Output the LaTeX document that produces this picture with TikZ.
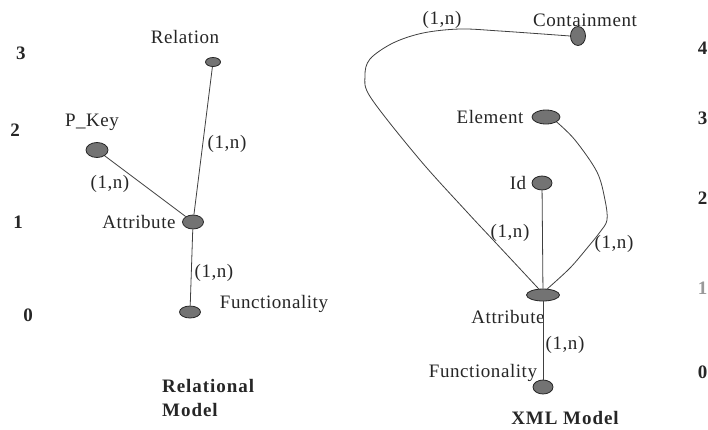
\documentclass[tikz,border=0pt]{standalone}
\usepackage{fontspec}
\setmainfont{Liberation Serif}
\newfontfamily\lblfont[LetterSpace=3]{Liberation Serif}
\newfontfamily\hdfont[LetterSpace=5]{Liberation Serif}
\usetikzlibrary{shapes.geometric}
\begin{document}
\begin{tikzpicture}[x=1pt,y=-1pt,
  dot/.style={ellipse,draw=black!85,fill=black!55,line width=0.8pt,inner sep=0pt},
  lbl/.style={font=\lblfont\fontsize{19}{21}\selectfont,text=black!85,inner sep=0pt},
  num/.style={font=\hdfont\fontsize{19}{22}\selectfont\bfseries,text=black!85,inner sep=0pt},
  rnum/.style={font=\fontsize{19}{22}\selectfont\bfseries,text=black!85,inner sep=0pt,anchor=east},
  edge/.style={draw=black!75,line width=0.8pt},
  wavy/.style={edge,line join=round}]
\useasboundingbox (0,0) rectangle (708,429);
\fill[white] (0,0) rectangle (708,429);

% level scale, left
\node[num] (l3) at (21,53) {3};
\node[num] (l2) at (15,130) {2};
\node[num] (l1) at (18,222) {1};
\node[num] (l0) at (28,315) {0};
% level scale, right
\node[rnum] (r4) at (707.5,48) {4};
\node[rnum] (r3) at (707.5,118) {3};
\node[rnum] (r2) at (707.5,198) {2};
\node[rnum,text=black!40] (r1) at (707.5,288) {1};
\node[rnum] (r0) at (707.5,372) {0};

% ---- relational model ----
\node[dot,minimum width=15pt,minimum height=9pt] (rel) at (213,62) {};
\node[dot,minimum width=22pt,minimum height=15pt] (pkey) at (97,150) {};
\node[dot,minimum width=21pt,minimum height=14pt] (attr) at (193,222) {};
\node[dot,minimum width=21pt,minimum height=12pt] (func) at (190,312) {};

\node[lbl] (relT) at (185,37) {Relation};
\node[lbl] (pkeyT) at (92,122) {P\_Key};
\node[lbl] (attrT) at (139,222) {Attribute};
\node[lbl] (funcT) at (274,304) {Functionality};

\draw[edge] (rel) -- (attr);
\draw[edge] (pkey) -- (attr);
\draw[edge] (attr) -- (func);

\node[lbl] (c1) at (227,144) {(1,n)};
\node[lbl] (c2) at (110,184) {(1,n)};
\node[lbl] (c3) at (214,273) {(1,n)};

\node[num,anchor=west] (relM1) at (162,386) {Relational};
\node[num,anchor=west] (relM2) at (162,410) {Model};

% ---- XML model ----
\node[dot,minimum width=15pt,minimum height=19pt] (cont) at (578,36) {};
\node[dot,minimum width=28pt,minimum height=14pt] (elem) at (546,117) {};
\node[dot,minimum width=20pt,minimum height=14pt] (id) at (542,183) {};
\node[dot,minimum width=33pt,minimum height=12pt] (xattr) at (543,295) {};
\node[dot,minimum width=20pt,minimum height=14pt] (xfunc) at (543,387) {};

\node[lbl] (contT) at (585,20) {Containment};
\node[lbl] (elemT) at (490,117) {Element};
\node[lbl] (idT) at (518,183) {Id};
\node[lbl] (xattrT) at (508,317) {Attribute};
\node[lbl] (xfuncT) at (483,373) {Functionality};

% hand-drawn loops into the attribute node
\draw[wavy] plot[smooth,tension=0.55] coordinates {(cont.west) (500,31) (460,29) (423,33) (393,43) (370,59) (365,76) (371,98) (420,160) (467,212) (495,242) (523,272) (xattr.125)};
\draw[wavy] plot[smooth,tension=0.55] coordinates {(elem.-25) (575,140) (597,172) (605,200) (607,220) (600,232) (588,247) (570,268) (xattr.55)};
\draw[edge] (id) -- (xattr);
\draw[edge] (xattr) -- (xfunc);

\node[lbl] (x1) at (442,20) {(1,n)};
\node[lbl] (x2) at (510,233) {(1,n)};
\node[lbl] (x3) at (614,244) {(1,n)};
\node[lbl] (x4) at (565,345) {(1,n)};

\node[num] (xmlM) at (565,418) {XML Model};
\end{tikzpicture}
\end{document}
